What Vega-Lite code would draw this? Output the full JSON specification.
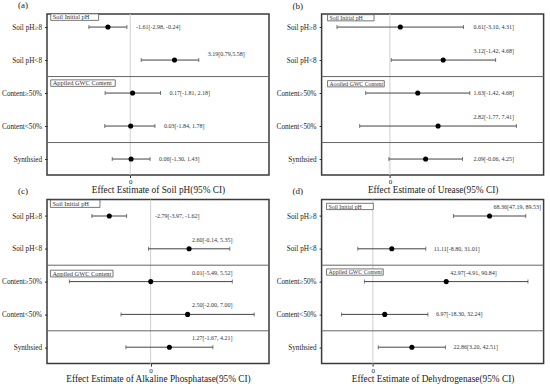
{
  "$schema": "https://vega.github.io/schema/vega-lite/v6.json",
  "padding": 0,
  "columns": 2,
  "spacing": {"row": 24.6, "column": 52.6},
  "bounds": "flush",
  "config": {
    "view": {"stroke": "#3a3a3a", "strokeWidth": 1.5},
    "font": "Liberation Serif",
    "axis": {"grid": false, "domain": false, "labelFont": "Liberation Serif", "titleFont": "Liberation Serif", "labelColor": "#222", "titleColor": "#222", "tickColor": "#333", "titleFontWeight": "normal"},
    "axisY": {"labelFontSize": 7.2, "tickSize": 2.5, "labelPadding": 3},
    "axisX": {"labelFontSize": 7, "tickSize": 2.5, "labelPadding": 0, "titleFontSize": 9.3, "titlePadding": 1},
    "title": {"font": "Liberation Serif", "fontSize": 9, "fontWeight": "normal", "anchor": "start", "frame": "group", "dx": -29, "offset": 3, "color": "#222"},
    "text": {"font": "Liberation Serif"}
  },
  "concat": [
    {
      "width": 222, "height": 161,
      "title": {"text": "(a)"},
      "data": {"values": [
        {"row": "Soil pH≥8", "est": -1.61, "lo": -2.98, "hi": -0.24, "label": "-1.61[-2.98, -0.24]"},
        {"row": "Soil pH<8", "est": 3.19, "lo": 0.79, "hi": 4.94, "label": "3.19[0.79,5.58]"},
        {"row": "Content≥50%", "est": 0.17, "lo": -1.81, "hi": 2.18, "label": "0.17[-1.81, 2.18]"},
        {"row": "Content<50%", "est": 0.03, "lo": -1.84, "hi": 1.78, "label": "0.03[-1.84, 1.78]"},
        {"row": "Synthsied", "est": 0.06, "lo": -1.30, "hi": 1.43, "label": "0.06[-1.30, 1.43]"}
      ]},
      "layer": [
        {"data": {"values": [{}]}, "mark": {"type": "rule", "color": "#cfcfcf", "strokeWidth": 1},
         "encoding": {"x": {"datum": 0, "type": "quantitative", "scale": {"domain": [-6, 10], "nice": false, "zero": false}, "axis": {"values": [0], "title": "Effect Estimate of Soil pH(95% CI)"}}}},
        {"transform": [{"filter": {"field": "row", "oneOf": ["Soil pH<8", "Content<50%"]}}],
         "mark": {"type": "rule", "color": "#666", "strokeWidth": 1, "yOffset": 16.5},
         "encoding": {"y": {"field": "row", "type": "nominal", "scale": {"type": "point", "domain": ["Soil pH≥8", "Soil pH<8", "Content≥50%", "Content<50%", "Synthsied"], "padding": 0.44, "align": 0.45}, "title": null}}},
        {"mark": {"type": "rule", "color": "#444", "strokeWidth": 1},
         "encoding": {"x": {"field": "lo", "type": "quantitative", "scale": {"domain": [-6, 10], "nice": false, "zero": false}, "axis": {"values": [0], "title": "Effect Estimate of Soil pH(95% CI)"}}, "x2": {"field": "hi"},
                      "y": {"field": "row", "type": "nominal", "scale": {"type": "point", "domain": ["Soil pH≥8", "Soil pH<8", "Content≥50%", "Content<50%", "Synthsied"], "padding": 0.44, "align": 0.45}, "title": null}}},
        {"mark": {"type": "tick", "orient": "vertical", "size": 4, "thickness": 1, "color": "#444"},
         "encoding": {"x": {"field": "lo", "type": "quantitative", "scale": {"domain": [-6, 10], "nice": false, "zero": false}, "axis": {"values": [0], "title": "Effect Estimate of Soil pH(95% CI)"}},
                      "y": {"field": "row", "type": "nominal", "scale": {"type": "point", "domain": ["Soil pH≥8", "Soil pH<8", "Content≥50%", "Content<50%", "Synthsied"], "padding": 0.44, "align": 0.45}, "title": null}}},
        {"mark": {"type": "tick", "orient": "vertical", "size": 4, "thickness": 1, "color": "#444"},
         "encoding": {"x": {"field": "hi", "type": "quantitative", "scale": {"domain": [-6, 10], "nice": false, "zero": false}, "axis": {"values": [0], "title": "Effect Estimate of Soil pH(95% CI)"}},
                      "y": {"field": "row", "type": "nominal", "scale": {"type": "point", "domain": ["Soil pH≥8", "Soil pH<8", "Content≥50%", "Content<50%", "Synthsied"], "padding": 0.44, "align": 0.45}, "title": null}}},
        {"mark": {"type": "point", "filled": true, "size": 26, "color": "#000", "opacity": 1},
         "encoding": {"x": {"field": "est", "type": "quantitative", "scale": {"domain": [-6, 10], "nice": false, "zero": false}, "axis": {"values": [0], "title": "Effect Estimate of Soil pH(95% CI)"}},
                      "y": {"field": "row", "type": "nominal", "scale": {"type": "point", "domain": ["Soil pH≥8", "Soil pH<8", "Content≥50%", "Content<50%", "Synthsied"], "padding": 0.44, "align": 0.45}, "title": null}}},
        {"transform": [{"filter": "datum.row != 'Soil pH<8'"}],
         "mark": {"type": "text", "align": "left", "baseline": "middle", "dx": 9, "fontSize": 6, "color": "#333"},
         "encoding": {"x": {"field": "hi", "type": "quantitative", "scale": {"domain": [-6, 10], "nice": false, "zero": false}, "axis": {"values": [0], "title": "Effect Estimate of Soil pH(95% CI)"}},
                      "y": {"field": "row", "type": "nominal", "scale": {"type": "point", "domain": ["Soil pH≥8", "Soil pH<8", "Content≥50%", "Content<50%", "Synthsied"], "padding": 0.44, "align": 0.45}, "title": null},
                      "text": {"field": "label"}}},
        {"transform": [{"filter": "datum.row == 'Soil pH<8'"}],
         "mark": {"type": "text", "align": "left", "baseline": "middle", "dx": 9, "dy": -6, "fontSize": 6, "color": "#333"},
         "encoding": {"x": {"field": "hi", "type": "quantitative", "scale": {"domain": [-6, 10], "nice": false, "zero": false}, "axis": {"values": [0], "title": "Effect Estimate of Soil pH(95% CI)"}},
                      "y": {"field": "row", "type": "nominal", "scale": {"type": "point", "domain": ["Soil pH≥8", "Soil pH<8", "Content≥50%", "Content<50%", "Synthsied"], "padding": 0.44, "align": 0.45}, "title": null},
                      "text": {"field": "label"}}},
        {"data": {"values": [{"row": "Soil pH≥8", "group": "Soil Initial pH", "x0": -5.73, "x1": -2.28}, {"row": "Content≥50%", "group": "Appiled GWC Content", "x0": -5.73, "x1": -1.08}]},
         "mark": {"type": "rect", "fill": "white", "stroke": "#555", "strokeWidth": 0.8, "yOffset": -13.2, "y2Offset": -6.7},
         "encoding": {"x": {"field": "x0", "type": "quantitative", "scale": {"domain": [-6, 10], "nice": false, "zero": false}, "axis": {"values": [0], "title": "Effect Estimate of Soil pH(95% CI)"}}, "x2": {"field": "x1"},
                      "y": {"field": "row", "type": "nominal", "scale": {"type": "point", "domain": ["Soil pH≥8", "Soil pH<8", "Content≥50%", "Content<50%", "Synthsied"], "padding": 0.44, "align": 0.45}, "title": null}, "y2": {"field": "row"}}},
        {"data": {"values": [{"row": "Soil pH≥8", "group": "Soil Initial pH", "x0": -5.73}, {"row": "Content≥50%", "group": "Appiled GWC Content", "x0": -5.73}]},
         "mark": {"type": "text", "align": "left", "baseline": "middle", "dx": 2, "dy": -10, "fontSize": 6.4, "color": "#333"},
         "encoding": {"x": {"field": "x0", "type": "quantitative", "scale": {"domain": [-6, 10], "nice": false, "zero": false}, "axis": {"values": [0], "title": "Effect Estimate of Soil pH(95% CI)"}},
                      "y": {"field": "row", "type": "nominal", "scale": {"type": "point", "domain": ["Soil pH≥8", "Soil pH<8", "Content≥50%", "Content<50%", "Synthsied"], "padding": 0.44, "align": 0.45}, "title": null},
                      "text": {"field": "group"}}}
      ]
    },
    {
      "width": 222, "height": 161,
      "title": {"text": "(b)"},
      "data": {"values": [
        {"row": "Soil pH≥8", "est": 0.61, "lo": -3.10, "hi": 4.31, "label": "0.61[-3.10, 4.31]"},
        {"row": "Soil pH<8", "est": 3.12, "lo": 0.08, "hi": 6.19, "label": "3.12[-1.42, 4.68]"},
        {"row": "Content≥50%", "est": 1.63, "lo": -1.42, "hi": 4.68, "label": "1.63[-1.42, 4.68]"},
        {"row": "Content<50%", "est": 2.82, "lo": -1.77, "hi": 7.41, "label": "2.82[-1.77, 7.41]"},
        {"row": "Synthsied", "est": 2.09, "lo": -0.06, "hi": 4.25, "label": "2.09[-0.06, 4.25]"}
      ]},
      "layer": [
        {"data": {"values": [{}]}, "mark": {"type": "rule", "color": "#cfcfcf", "strokeWidth": 1},
         "encoding": {"x": {"datum": 0, "type": "quantitative", "scale": {"domain": [-4, 9], "nice": false, "zero": false}, "axis": {"values": [0], "title": "Effect Estimate of Urease(95% CI)"}}}},
        {"transform": [{"filter": {"field": "row", "oneOf": ["Soil pH<8", "Content<50%"]}}],
         "mark": {"type": "rule", "color": "#666", "strokeWidth": 1, "yOffset": 16.5},
         "encoding": {"y": {"field": "row", "type": "nominal", "scale": {"type": "point", "domain": ["Soil pH≥8", "Soil pH<8", "Content≥50%", "Content<50%", "Synthsied"], "padding": 0.44, "align": 0.45}, "title": null}}},
        {"mark": {"type": "rule", "color": "#444", "strokeWidth": 1},
         "encoding": {"x": {"field": "lo", "type": "quantitative", "scale": {"domain": [-4, 9], "nice": false, "zero": false}, "axis": {"values": [0], "title": "Effect Estimate of Urease(95% CI)"}}, "x2": {"field": "hi"},
                      "y": {"field": "row", "type": "nominal", "scale": {"type": "point", "domain": ["Soil pH≥8", "Soil pH<8", "Content≥50%", "Content<50%", "Synthsied"], "padding": 0.44, "align": 0.45}, "title": null}}},
        {"mark": {"type": "tick", "orient": "vertical", "size": 4, "thickness": 1, "color": "#444"},
         "encoding": {"x": {"field": "lo", "type": "quantitative", "scale": {"domain": [-4, 9], "nice": false, "zero": false}, "axis": {"values": [0], "title": "Effect Estimate of Urease(95% CI)"}},
                      "y": {"field": "row", "type": "nominal", "scale": {"type": "point", "domain": ["Soil pH≥8", "Soil pH<8", "Content≥50%", "Content<50%", "Synthsied"], "padding": 0.44, "align": 0.45}, "title": null}}},
        {"mark": {"type": "tick", "orient": "vertical", "size": 4, "thickness": 1, "color": "#444"},
         "encoding": {"x": {"field": "hi", "type": "quantitative", "scale": {"domain": [-4, 9], "nice": false, "zero": false}, "axis": {"values": [0], "title": "Effect Estimate of Urease(95% CI)"}},
                      "y": {"field": "row", "type": "nominal", "scale": {"type": "point", "domain": ["Soil pH≥8", "Soil pH<8", "Content≥50%", "Content<50%", "Synthsied"], "padding": 0.44, "align": 0.45}, "title": null}}},
        {"mark": {"type": "point", "filled": true, "size": 26, "color": "#000", "opacity": 1},
         "encoding": {"x": {"field": "est", "type": "quantitative", "scale": {"domain": [-4, 9], "nice": false, "zero": false}, "axis": {"values": [0], "title": "Effect Estimate of Urease(95% CI)"}},
                      "y": {"field": "row", "type": "nominal", "scale": {"type": "point", "domain": ["Soil pH≥8", "Soil pH<8", "Content≥50%", "Content<50%", "Synthsied"], "padding": 0.44, "align": 0.45}, "title": null}}},
        {"transform": [{"filter": {"field": "row", "oneOf": ["Soil pH≥8", "Content≥50%", "Synthsied"]}}],
         "mark": {"type": "text", "align": "left", "baseline": "middle", "fontSize": 6, "color": "#333"},
         "encoding": {"x": {"datum": 4.9, "type": "quantitative", "scale": {"domain": [-4, 9], "nice": false, "zero": false}, "axis": {"values": [0], "title": "Effect Estimate of Urease(95% CI)"}},
                      "y": {"field": "row", "type": "nominal", "scale": {"type": "point", "domain": ["Soil pH≥8", "Soil pH<8", "Content≥50%", "Content<50%", "Synthsied"], "padding": 0.44, "align": 0.45}, "title": null},
                      "text": {"field": "label"}}},
        {"transform": [{"filter": {"field": "row", "oneOf": ["Soil pH<8", "Content<50%"]}}],
         "mark": {"type": "text", "align": "left", "baseline": "middle", "dy": -9, "fontSize": 6, "color": "#333"},
         "encoding": {"x": {"datum": 4.9, "type": "quantitative", "scale": {"domain": [-4, 9], "nice": false, "zero": false}, "axis": {"values": [0], "title": "Effect Estimate of Urease(95% CI)"}},
                      "y": {"field": "row", "type": "nominal", "scale": {"type": "point", "domain": ["Soil pH≥8", "Soil pH<8", "Content≥50%", "Content<50%", "Synthsied"], "padding": 0.44, "align": 0.45}, "title": null},
                      "text": {"field": "label"}}},
        {"data": {"values": [{"row": "Soil pH≥8", "group": "Soil Initial pH", "x0": -3.65, "x1": -0.93}, {"row": "Content≥50%", "group": "Aooiled GWC Content", "x0": -3.65, "x1": -0.33}]},
         "mark": {"type": "rect", "fill": "white", "stroke": "#555", "strokeWidth": 0.8, "yOffset": -12.4, "y2Offset": -6.2},
         "encoding": {"x": {"field": "x0", "type": "quantitative", "scale": {"domain": [-4, 9], "nice": false, "zero": false}, "axis": {"values": [0], "title": "Effect Estimate of Urease(95% CI)"}}, "x2": {"field": "x1"},
                      "y": {"field": "row", "type": "nominal", "scale": {"type": "point", "domain": ["Soil pH≥8", "Soil pH<8", "Content≥50%", "Content<50%", "Synthsied"], "padding": 0.44, "align": 0.45}, "title": null}, "y2": {"field": "row"}}},
        {"data": {"values": [{"row": "Soil pH≥8", "group": "Soil Initial pH", "x0": -3.65}, {"row": "Content≥50%", "group": "Aooiled GWC Content", "x0": -3.65}]},
         "mark": {"type": "text", "align": "left", "baseline": "middle", "dx": 2, "dy": -9.3, "fontSize": 5.8, "color": "#333"},
         "encoding": {"x": {"field": "x0", "type": "quantitative", "scale": {"domain": [-4, 9], "nice": false, "zero": false}, "axis": {"values": [0], "title": "Effect Estimate of Urease(95% CI)"}},
                      "y": {"field": "row", "type": "nominal", "scale": {"type": "point", "domain": ["Soil pH≥8", "Soil pH<8", "Content≥50%", "Content<50%", "Synthsied"], "padding": 0.44, "align": 0.45}, "title": null},
                      "text": {"field": "group"}}}
      ]
    },
    {
      "width": 222, "height": 164,
      "title": {"text": "(c)"},
      "data": {"values": [
        {"row": "Soil pH≥8", "est": -2.79, "lo": -3.97, "hi": -1.62, "label": "-2.79[-3.97, -1.62]"},
        {"row": "Soil pH<8", "est": 2.60, "lo": -0.14, "hi": 5.35, "label": "2.60[-0.14, 5.35]"},
        {"row": "Content≥50%", "est": 0.01, "lo": -5.49, "hi": 5.52, "label": "0.01[-5.49, 5.52]"},
        {"row": "Content<50%", "est": 2.50, "lo": -2.00, "hi": 7.00, "label": "2.50[-2.00, 7.00]"},
        {"row": "Synthsied", "est": 1.27, "lo": -1.67, "hi": 4.21, "label": "1.27[-1.67, 4.21]"}
      ]},
      "layer": [
        {"data": {"values": [{}]}, "mark": {"type": "rule", "color": "#cfcfcf", "strokeWidth": 1},
         "encoding": {"x": {"datum": 0, "type": "quantitative", "scale": {"domain": [-7, 8], "nice": false, "zero": false}, "axis": {"values": [0], "title": "Effect Estimate of Alkaline Phosphatase(95% CI)"}}}},
        {"transform": [{"filter": {"field": "row", "oneOf": ["Soil pH<8", "Content<50%"]}}],
         "mark": {"type": "rule", "color": "#666", "strokeWidth": 1, "yOffset": 16.4},
         "encoding": {"y": {"field": "row", "type": "nominal", "scale": {"type": "point", "domain": ["Soil pH≥8", "Soil pH<8", "Content≥50%", "Content<50%", "Synthsied"], "padding": 0.5, "align": 0.5}, "title": null}}},
        {"mark": {"type": "rule", "color": "#444", "strokeWidth": 1},
         "encoding": {"x": {"field": "lo", "type": "quantitative", "scale": {"domain": [-7, 8], "nice": false, "zero": false}, "axis": {"values": [0], "title": "Effect Estimate of Alkaline Phosphatase(95% CI)"}}, "x2": {"field": "hi"},
                      "y": {"field": "row", "type": "nominal", "scale": {"type": "point", "domain": ["Soil pH≥8", "Soil pH<8", "Content≥50%", "Content<50%", "Synthsied"], "padding": 0.5, "align": 0.5}, "title": null}}},
        {"mark": {"type": "tick", "orient": "vertical", "size": 4, "thickness": 1, "color": "#444"},
         "encoding": {"x": {"field": "lo", "type": "quantitative", "scale": {"domain": [-7, 8], "nice": false, "zero": false}, "axis": {"values": [0], "title": "Effect Estimate of Alkaline Phosphatase(95% CI)"}},
                      "y": {"field": "row", "type": "nominal", "scale": {"type": "point", "domain": ["Soil pH≥8", "Soil pH<8", "Content≥50%", "Content<50%", "Synthsied"], "padding": 0.5, "align": 0.5}, "title": null}}},
        {"mark": {"type": "tick", "orient": "vertical", "size": 4, "thickness": 1, "color": "#444"},
         "encoding": {"x": {"field": "hi", "type": "quantitative", "scale": {"domain": [-7, 8], "nice": false, "zero": false}, "axis": {"values": [0], "title": "Effect Estimate of Alkaline Phosphatase(95% CI)"}},
                      "y": {"field": "row", "type": "nominal", "scale": {"type": "point", "domain": ["Soil pH≥8", "Soil pH<8", "Content≥50%", "Content<50%", "Synthsied"], "padding": 0.5, "align": 0.5}, "title": null}}},
        {"mark": {"type": "point", "filled": true, "size": 26, "color": "#000", "opacity": 1},
         "encoding": {"x": {"field": "est", "type": "quantitative", "scale": {"domain": [-7, 8], "nice": false, "zero": false}, "axis": {"values": [0], "title": "Effect Estimate of Alkaline Phosphatase(95% CI)"}},
                      "y": {"field": "row", "type": "nominal", "scale": {"type": "point", "domain": ["Soil pH≥8", "Soil pH<8", "Content≥50%", "Content<50%", "Synthsied"], "padding": 0.5, "align": 0.5}, "title": null}}},
        {"transform": [{"filter": "datum.row == 'Soil pH≥8'"}],
         "mark": {"type": "text", "align": "left", "baseline": "middle", "fontSize": 6, "color": "#333"},
         "encoding": {"x": {"datum": 0.3, "type": "quantitative", "scale": {"domain": [-7, 8], "nice": false, "zero": false}, "axis": {"values": [0], "title": "Effect Estimate of Alkaline Phosphatase(95% CI)"}},
                      "y": {"field": "row", "type": "nominal", "scale": {"type": "point", "domain": ["Soil pH≥8", "Soil pH<8", "Content≥50%", "Content<50%", "Synthsied"], "padding": 0.5, "align": 0.5}, "title": null},
                      "text": {"field": "label"}}},
        {"transform": [{"filter": "datum.row != 'Soil pH≥8'"}],
         "mark": {"type": "text", "align": "left", "baseline": "middle", "dy": -9, "fontSize": 6, "color": "#333"},
         "encoding": {"x": {"datum": 2.8, "type": "quantitative", "scale": {"domain": [-7, 8], "nice": false, "zero": false}, "axis": {"values": [0], "title": "Effect Estimate of Alkaline Phosphatase(95% CI)"}},
                      "y": {"field": "row", "type": "nominal", "scale": {"type": "point", "domain": ["Soil pH≥8", "Soil pH<8", "Content≥50%", "Content<50%", "Synthsied"], "padding": 0.5, "align": 0.5}, "title": null},
                      "text": {"field": "label"}}},
        {"data": {"values": [{"row": "Soil pH≥8", "group": "Soil Initial pH", "x0": -6.77, "x1": -3.42}]},
         "mark": {"type": "rect", "fill": "white", "stroke": "#555", "strokeWidth": 0.8, "yOffset": -16, "y2Offset": -8.6},
         "encoding": {"x": {"field": "x0", "type": "quantitative", "scale": {"domain": [-7, 8], "nice": false, "zero": false}, "axis": {"values": [0], "title": "Effect Estimate of Alkaline Phosphatase(95% CI)"}}, "x2": {"field": "x1"},
                      "y": {"field": "row", "type": "nominal", "scale": {"type": "point", "domain": ["Soil pH≥8", "Soil pH<8", "Content≥50%", "Content<50%", "Synthsied"], "padding": 0.5, "align": 0.5}, "title": null}, "y2": {"field": "row"}}},
        {"data": {"values": [{"row": "Soil pH≥8", "group": "Soil Initial pH", "x0": -6.77}]},
         "mark": {"type": "text", "align": "left", "baseline": "middle", "dx": 2, "dy": -12.3, "fontSize": 6.4, "color": "#333"},
         "encoding": {"x": {"field": "x0", "type": "quantitative", "scale": {"domain": [-7, 8], "nice": false, "zero": false}, "axis": {"values": [0], "title": "Effect Estimate of Alkaline Phosphatase(95% CI)"}},
                      "y": {"field": "row", "type": "nominal", "scale": {"type": "point", "domain": ["Soil pH≥8", "Soil pH<8", "Content≥50%", "Content<50%", "Synthsied"], "padding": 0.5, "align": 0.5}, "title": null},
                      "text": {"field": "group"}}},
        {"data": {"values": [{"row": "Content≥50%", "group": "Appiled GWC Content", "x0": -6.77, "x1": -2.54}]},
         "mark": {"type": "rect", "fill": "white", "stroke": "#555", "strokeWidth": 0.8, "yOffset": -11.4, "y2Offset": -4.7},
         "encoding": {"x": {"field": "x0", "type": "quantitative", "scale": {"domain": [-7, 8], "nice": false, "zero": false}, "axis": {"values": [0], "title": "Effect Estimate of Alkaline Phosphatase(95% CI)"}}, "x2": {"field": "x1"},
                      "y": {"field": "row", "type": "nominal", "scale": {"type": "point", "domain": ["Soil pH≥8", "Soil pH<8", "Content≥50%", "Content<50%", "Synthsied"], "padding": 0.5, "align": 0.5}, "title": null}, "y2": {"field": "row"}}},
        {"data": {"values": [{"row": "Content≥50%", "group": "Appiled GWC Content", "x0": -6.77}]},
         "mark": {"type": "text", "align": "left", "baseline": "middle", "dx": 2, "dy": -8, "fontSize": 6.4, "color": "#333"},
         "encoding": {"x": {"field": "x0", "type": "quantitative", "scale": {"domain": [-7, 8], "nice": false, "zero": false}, "axis": {"values": [0], "title": "Effect Estimate of Alkaline Phosphatase(95% CI)"}},
                      "y": {"field": "row", "type": "nominal", "scale": {"type": "point", "domain": ["Soil pH≥8", "Soil pH<8", "Content≥50%", "Content<50%", "Synthsied"], "padding": 0.5, "align": 0.5}, "title": null},
                      "text": {"field": "group"}}}
      ]
    },
    {
      "width": 222, "height": 164,
      "title": {"text": "(d)"},
      "data": {"values": [
        {"row": "Soil pH≥8", "est": 68.36, "lo": 47.19, "hi": 89.53, "label": "68.36[47.19, 89.53]"},
        {"row": "Soil pH<8", "est": 11.11, "lo": -8.80, "hi": 31.01, "label": "11.11[-8.80, 31.01]"},
        {"row": "Content≥50%", "est": 42.97, "lo": -4.91, "hi": 90.84, "label": "42.97[-4.91, 90.84]"},
        {"row": "Content<50%", "est": 6.97, "lo": -18.30, "hi": 32.24, "label": "6.97[-18.30, 32.24]"},
        {"row": "Synthsied", "est": 22.86, "lo": 3.20, "hi": 42.51, "label": "22.86[3.20, 42.51]"}
      ]},
      "layer": [
        {"data": {"values": [{}]}, "mark": {"type": "rule", "color": "#cfcfcf", "strokeWidth": 1},
         "encoding": {"x": {"datum": 0, "type": "quantitative", "scale": {"domain": [-30, 100], "nice": false, "zero": false}, "axis": {"values": [0], "title": "Effect Estimate of Dehydrogenase(95% CI)"}}}},
        {"transform": [{"filter": {"field": "row", "oneOf": ["Soil pH<8", "Content<50%"]}}],
         "mark": {"type": "rule", "color": "#666", "strokeWidth": 1, "yOffset": 16.4},
         "encoding": {"y": {"field": "row", "type": "nominal", "scale": {"type": "point", "domain": ["Soil pH≥8", "Soil pH<8", "Content≥50%", "Content<50%", "Synthsied"], "padding": 0.5, "align": 0.5}, "title": null}}},
        {"mark": {"type": "rule", "color": "#444", "strokeWidth": 1},
         "encoding": {"x": {"field": "lo", "type": "quantitative", "scale": {"domain": [-30, 100], "nice": false, "zero": false}, "axis": {"values": [0], "title": "Effect Estimate of Dehydrogenase(95% CI)"}}, "x2": {"field": "hi"},
                      "y": {"field": "row", "type": "nominal", "scale": {"type": "point", "domain": ["Soil pH≥8", "Soil pH<8", "Content≥50%", "Content<50%", "Synthsied"], "padding": 0.5, "align": 0.5}, "title": null}}},
        {"mark": {"type": "tick", "orient": "vertical", "size": 4, "thickness": 1, "color": "#444"},
         "encoding": {"x": {"field": "lo", "type": "quantitative", "scale": {"domain": [-30, 100], "nice": false, "zero": false}, "axis": {"values": [0], "title": "Effect Estimate of Dehydrogenase(95% CI)"}},
                      "y": {"field": "row", "type": "nominal", "scale": {"type": "point", "domain": ["Soil pH≥8", "Soil pH<8", "Content≥50%", "Content<50%", "Synthsied"], "padding": 0.5, "align": 0.5}, "title": null}}},
        {"mark": {"type": "tick", "orient": "vertical", "size": 4, "thickness": 1, "color": "#444"},
         "encoding": {"x": {"field": "hi", "type": "quantitative", "scale": {"domain": [-30, 100], "nice": false, "zero": false}, "axis": {"values": [0], "title": "Effect Estimate of Dehydrogenase(95% CI)"}},
                      "y": {"field": "row", "type": "nominal", "scale": {"type": "point", "domain": ["Soil pH≥8", "Soil pH<8", "Content≥50%", "Content<50%", "Synthsied"], "padding": 0.5, "align": 0.5}, "title": null}}},
        {"mark": {"type": "point", "filled": true, "size": 26, "color": "#000", "opacity": 1},
         "encoding": {"x": {"field": "est", "type": "quantitative", "scale": {"domain": [-30, 100], "nice": false, "zero": false}, "axis": {"values": [0], "title": "Effect Estimate of Dehydrogenase(95% CI)"}},
                      "y": {"field": "row", "type": "nominal", "scale": {"type": "point", "domain": ["Soil pH≥8", "Soil pH<8", "Content≥50%", "Content<50%", "Synthsied"], "padding": 0.5, "align": 0.5}, "title": null}}},
        {"transform": [{"filter": {"field": "row", "oneOf": ["Soil pH<8", "Content<50%", "Synthsied"]}}],
         "mark": {"type": "text", "align": "left", "baseline": "middle", "dx": 8, "fontSize": 6, "color": "#333"},
         "encoding": {"x": {"field": "hi", "type": "quantitative", "scale": {"domain": [-30, 100], "nice": false, "zero": false}, "axis": {"values": [0], "title": "Effect Estimate of Dehydrogenase(95% CI)"}},
                      "y": {"field": "row", "type": "nominal", "scale": {"type": "point", "domain": ["Soil pH≥8", "Soil pH<8", "Content≥50%", "Content<50%", "Synthsied"], "padding": 0.5, "align": 0.5}, "title": null},
                      "text": {"field": "label"}}},
        {"transform": [{"filter": {"field": "row", "oneOf": ["Soil pH≥8", "Content≥50%"]}}],
         "mark": {"type": "text", "align": "left", "baseline": "middle", "dx": 4, "dy": -9, "fontSize": 6, "color": "#333"},
         "encoding": {"x": {"field": "est", "type": "quantitative", "scale": {"domain": [-30, 100], "nice": false, "zero": false}, "axis": {"values": [0], "title": "Effect Estimate of Dehydrogenase(95% CI)"}},
                      "y": {"field": "row", "type": "nominal", "scale": {"type": "point", "domain": ["Soil pH≥8", "Soil pH<8", "Content≥50%", "Content<50%", "Synthsied"], "padding": 0.5, "align": 0.5}, "title": null},
                      "text": {"field": "label"}}},
        {"data": {"values": [{"row": "Soil pH≥8", "group": "Soil Initial pH", "x0": -27.1, "x1": 0.3}, {"row": "Content≥50%", "group": "Appiled GWC Content", "x0": -27.1, "x1": 6.1}]},
         "mark": {"type": "rect", "fill": "white", "stroke": "#555", "strokeWidth": 0.8, "yOffset": -12.7, "y2Offset": -6.4},
         "encoding": {"x": {"field": "x0", "type": "quantitative", "scale": {"domain": [-30, 100], "nice": false, "zero": false}, "axis": {"values": [0], "title": "Effect Estimate of Dehydrogenase(95% CI)"}}, "x2": {"field": "x1"},
                      "y": {"field": "row", "type": "nominal", "scale": {"type": "point", "domain": ["Soil pH≥8", "Soil pH<8", "Content≥50%", "Content<50%", "Synthsied"], "padding": 0.5, "align": 0.5}, "title": null}, "y2": {"field": "row"}}},
        {"data": {"values": [{"row": "Soil pH≥8", "group": "Soil Initial pH", "x0": -27.1}, {"row": "Content≥50%", "group": "Appiled GWC Content", "x0": -27.1}]},
         "mark": {"type": "text", "align": "left", "baseline": "middle", "dx": 2, "dy": -9.5, "fontSize": 5.8, "color": "#333"},
         "encoding": {"x": {"field": "x0", "type": "quantitative", "scale": {"domain": [-30, 100], "nice": false, "zero": false}, "axis": {"values": [0], "title": "Effect Estimate of Dehydrogenase(95% CI)"}},
                      "y": {"field": "row", "type": "nominal", "scale": {"type": "point", "domain": ["Soil pH≥8", "Soil pH<8", "Content≥50%", "Content<50%", "Synthsied"], "padding": 0.5, "align": 0.5}, "title": null},
                      "text": {"field": "group"}}}
      ]
    }
  ]
}
